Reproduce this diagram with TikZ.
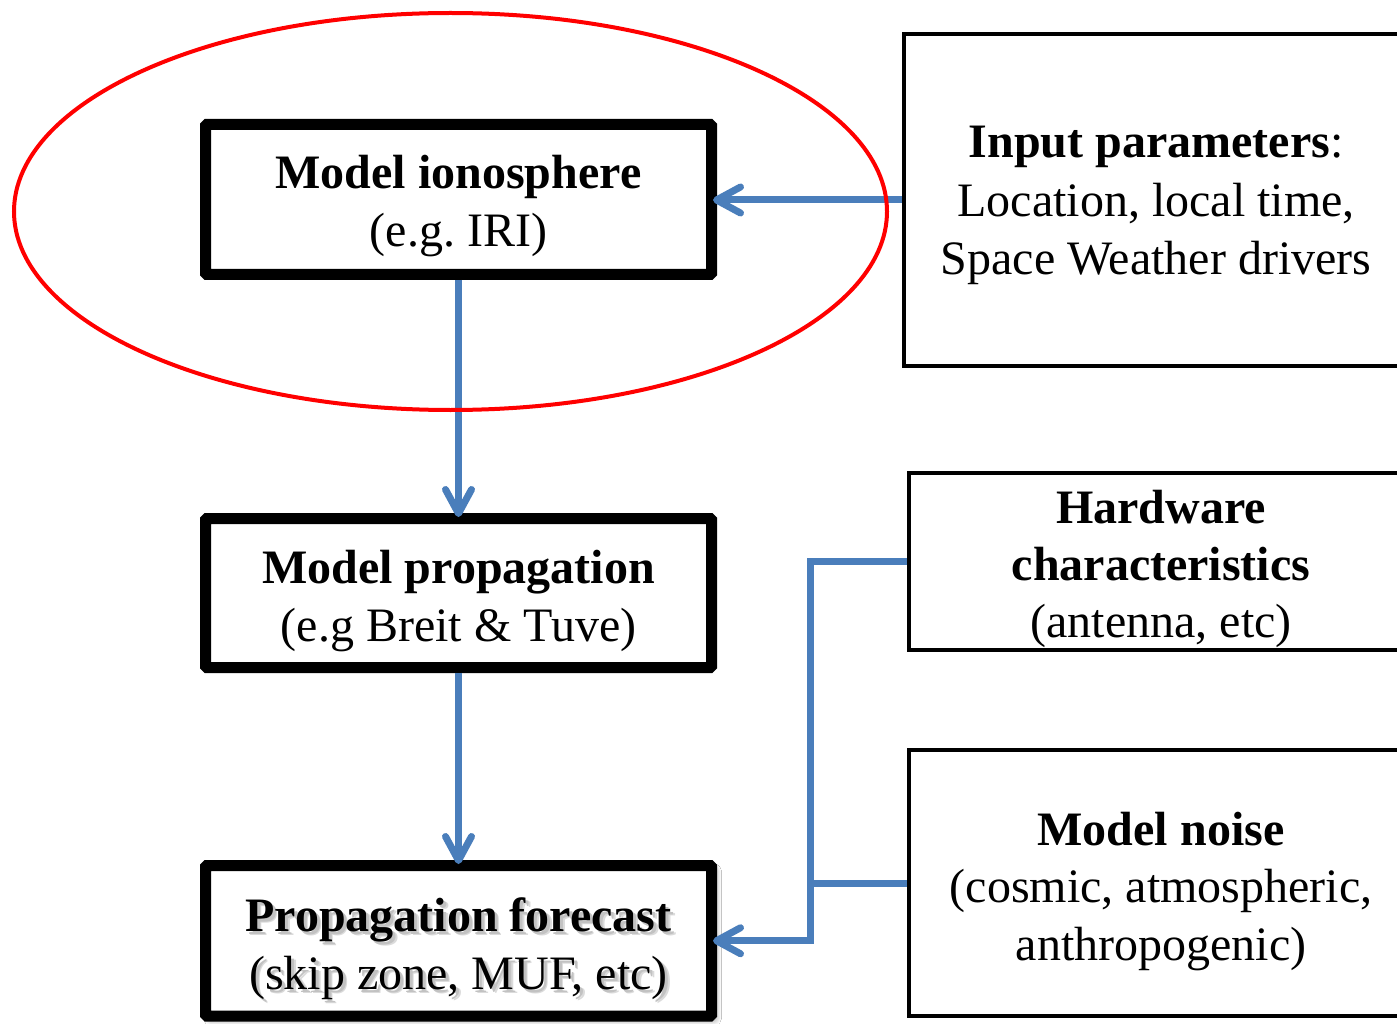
\documentclass[tikz,border=0pt]{standalone}
\usepackage{fontspec}
\setmainfont{Liberation Serif}
\usetikzlibrary{arrows.meta,shadows.blur}
\definecolor{linkblue}{HTML}{4A7EBB}
\definecolor{ringred}{HTML}{FF0000}
\frenchspacing
% text with a soft grey drop shadow behind it
\newcommand\dropshadowed[1]{\leavevmode
  \rlap{\hspace{4.5pt}\raisebox{-4.5pt}{\textcolor{black!14}{#1}}}%
  \rlap{\hspace{3pt}\raisebox{-3pt}{\textcolor{black!24}{#1}}}%
  #1}

\begin{document}
\begin{tikzpicture}[x=1pt,y=-1pt,
  heavybox/.style={draw=black,line width=11pt,minimum width=506pt,inner sep=0pt,
    rounded corners=1.5pt,fill=white},
  lightbox/.style={draw=black,line width=4pt,minimum width=504pt,inner sep=0pt,fill=white},
  txt/.style={inner sep=0pt,anchor=base,font=\fontsize{48}{58}\selectfont},
  link/.style={draw=linkblue,line width=7pt},
  arrowlink/.style={link,-{Straight Barb[length=24pt,width=26pt,round]},shorten >=-4pt},
]
\useasboundingbox (0,0) rectangle (1397,1024);
\clip (0,0) rectangle (1397,1024);
\fill[white] (0,0) rectangle (1397,1024);

% boxes
\node[heavybox,minimum height=150pt] (iono) at (458.5,199.5) {};
\node[heavybox,minimum height=149pt] (prop) at (458.5,593) {};
\node[heavybox,minimum height=150.5pt,
  blur shadow={shadow xshift=4pt,shadow yshift=-4pt,shadow blur radius=6pt,
  shadow blur steps=8,shadow opacity=45}] (fcst) at (458.5,940.75) {};
\node[lightbox,minimum height=332pt] (inp) at (1156,200) {};
\node[lightbox,minimum height=177pt] (hw) at (1161,561.5) {};
\node[lightbox,minimum height=266pt] (noise) at (1161,883) {};

% box texts
\node[txt] (ionoA) at (458.5,189) {\textbf{Model ionosphere}};
\node[txt] (ionoB) at (458.5,247) {(e.g. IRI)};

\node[txt] (propA) at (458.5,583) {\textbf{Model propagation}};
\node[txt] (propB) at (458.5,641) {(e.g Breit \& Tuve)};

\node[txt] (fcstA) at (458.5,931) {\dropshadowed{\textbf{Propagation forecast}}};
\node[txt] (fcstB) at (458.5,989) {\dropshadowed{(skip zone, MUF, etc)}};

\node[txt] (inpA) at (1156,158) {\textbf{Input parameters}:};
\node[txt] (inpB) at (1156,217) {Location, local time,};
\node[txt] (inpC) at (1156,275) {Space Weather drivers};

\node[txt] (hwA) at (1161,523) {\textbf{Hardware}};
\node[txt] (hwB) at (1161,580) {\textbf{characteristics}};
\node[txt] (hwC) at (1161,637) {(antenna, etc)};

\node[txt] (noiseA) at (1161,845) {\textbf{Model noise}};
\node[txt] (noiseB) at (1161,902) {(cosmic, atmospheric,};
\node[txt] (noiseC) at (1161,960) {anthropogenic)};

% connectors
\coordinate (bus) at (810,0);
\draw[arrowlink] (inp.west) -- (inp.west -| iono.east);
\draw[arrowlink] (iono.south) -- (prop.north);
\draw[arrowlink] (prop.south) -- (fcst.north);
\draw[arrowlink] (hw.west) -- (hw.west -| bus) |- (fcst.east);
\draw[link] (noise.west) -- (noise.west -| bus);

% highlight ring
\draw[ringred,line width=4pt] (450.5,211.5) ellipse [x radius=436.5pt,y radius=198.5pt];
\end{tikzpicture}
\end{document}
